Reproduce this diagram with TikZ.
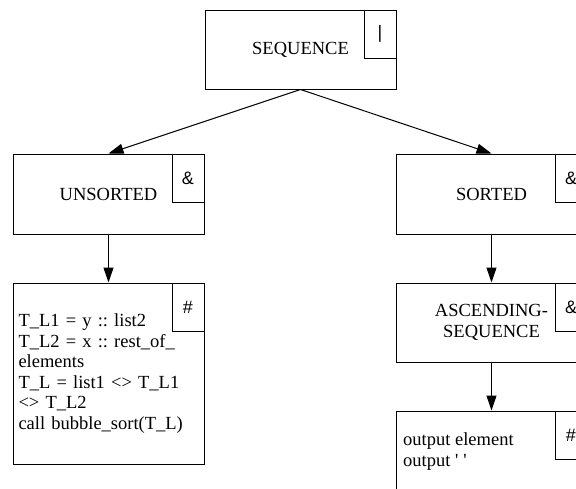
\documentclass[tikz,border=0pt]{standalone}
\usepackage{fontspec}
\setmainfont{Liberation Serif}
\setsansfont{Liberation Sans}
\usetikzlibrary{arrows.meta}
\frenchspacing
\begin{document}
\begin{tikzpicture}[x=1pt,y=-1pt,
  box/.style={draw, line width=1pt, rectangle, inner sep=0pt,
    minimum width=191pt, font=\fontsize{18.5}{20.5}\selectfont, align=center},
  tag/.style={draw, line width=1pt, minimum width=32pt, minimum height=48pt,
    inner sep=0pt, anchor=north east, font=\sffamily\fontsize{18}{20}\selectfont},
  link/.style={line width=1pt, -{Triangle[length=15pt,width=10pt]}}]
\useasboundingbox (0,0) rectangle (576,488);
\clip (0,0) rectangle (576,488);

% top level
\node[box, minimum height=79pt] (seq) at (300.5,49.5) {SEQUENCE};
\node[tag] (seqtag) at (seq.north east) {|};

% second level
\node[box, minimum height=80pt] (uns) at (108.5,194) {UNSORTED};
\node[tag] (unstag) at (uns.north east) {\&};
\node[box, minimum height=80pt] (srt) at (491.5,194) {SORTED};
\node[tag] (srttag) at (srt.north east) {\&};

% third level
\node[box, minimum height=181pt, align=left, text width=180pt, inner xsep=5.5pt] (swap) at (108.5,373.5)
  {T\_L1 = y :: list2\\
   T\_L2 = x :: rest\_of\_\\
   elements\\
   T\_L = list1 <> T\_L1\\
   <> T\_L2\\
   call bubble\_sort(T\_L)};
\node[tag] (swaptag) at (swap.north east) {\#};

\node[box, minimum height=79pt] (asc) at (491.5,322.5) {ASCENDING-\\SEQUENCE};
\node[tag] (asctag) at (asc.north east) {\&};

% fourth level
\node[box, minimum height=181pt] (out) at (491.5,501.5) {};
\node[tag] (outtag) at (out.north east) {\#};
\node[anchor=base west, inner sep=0pt, align=left, font=\fontsize{18.5}{21}\selectfont] (outtext) at (403,466)
  {output element\\output \textquotesingle\hspace{5pt}\textquotesingle};

% connectors
\draw[link] (seq.south) -- (uns.north);
\draw[link] (seq.south) -- (srt.north);
\draw[link] (uns.south) -- (swap.north);
\draw[link] (srt.south) -- (asc.north);
\draw[link] (asc.south) -- (out.north);
\end{tikzpicture}
\end{document}
